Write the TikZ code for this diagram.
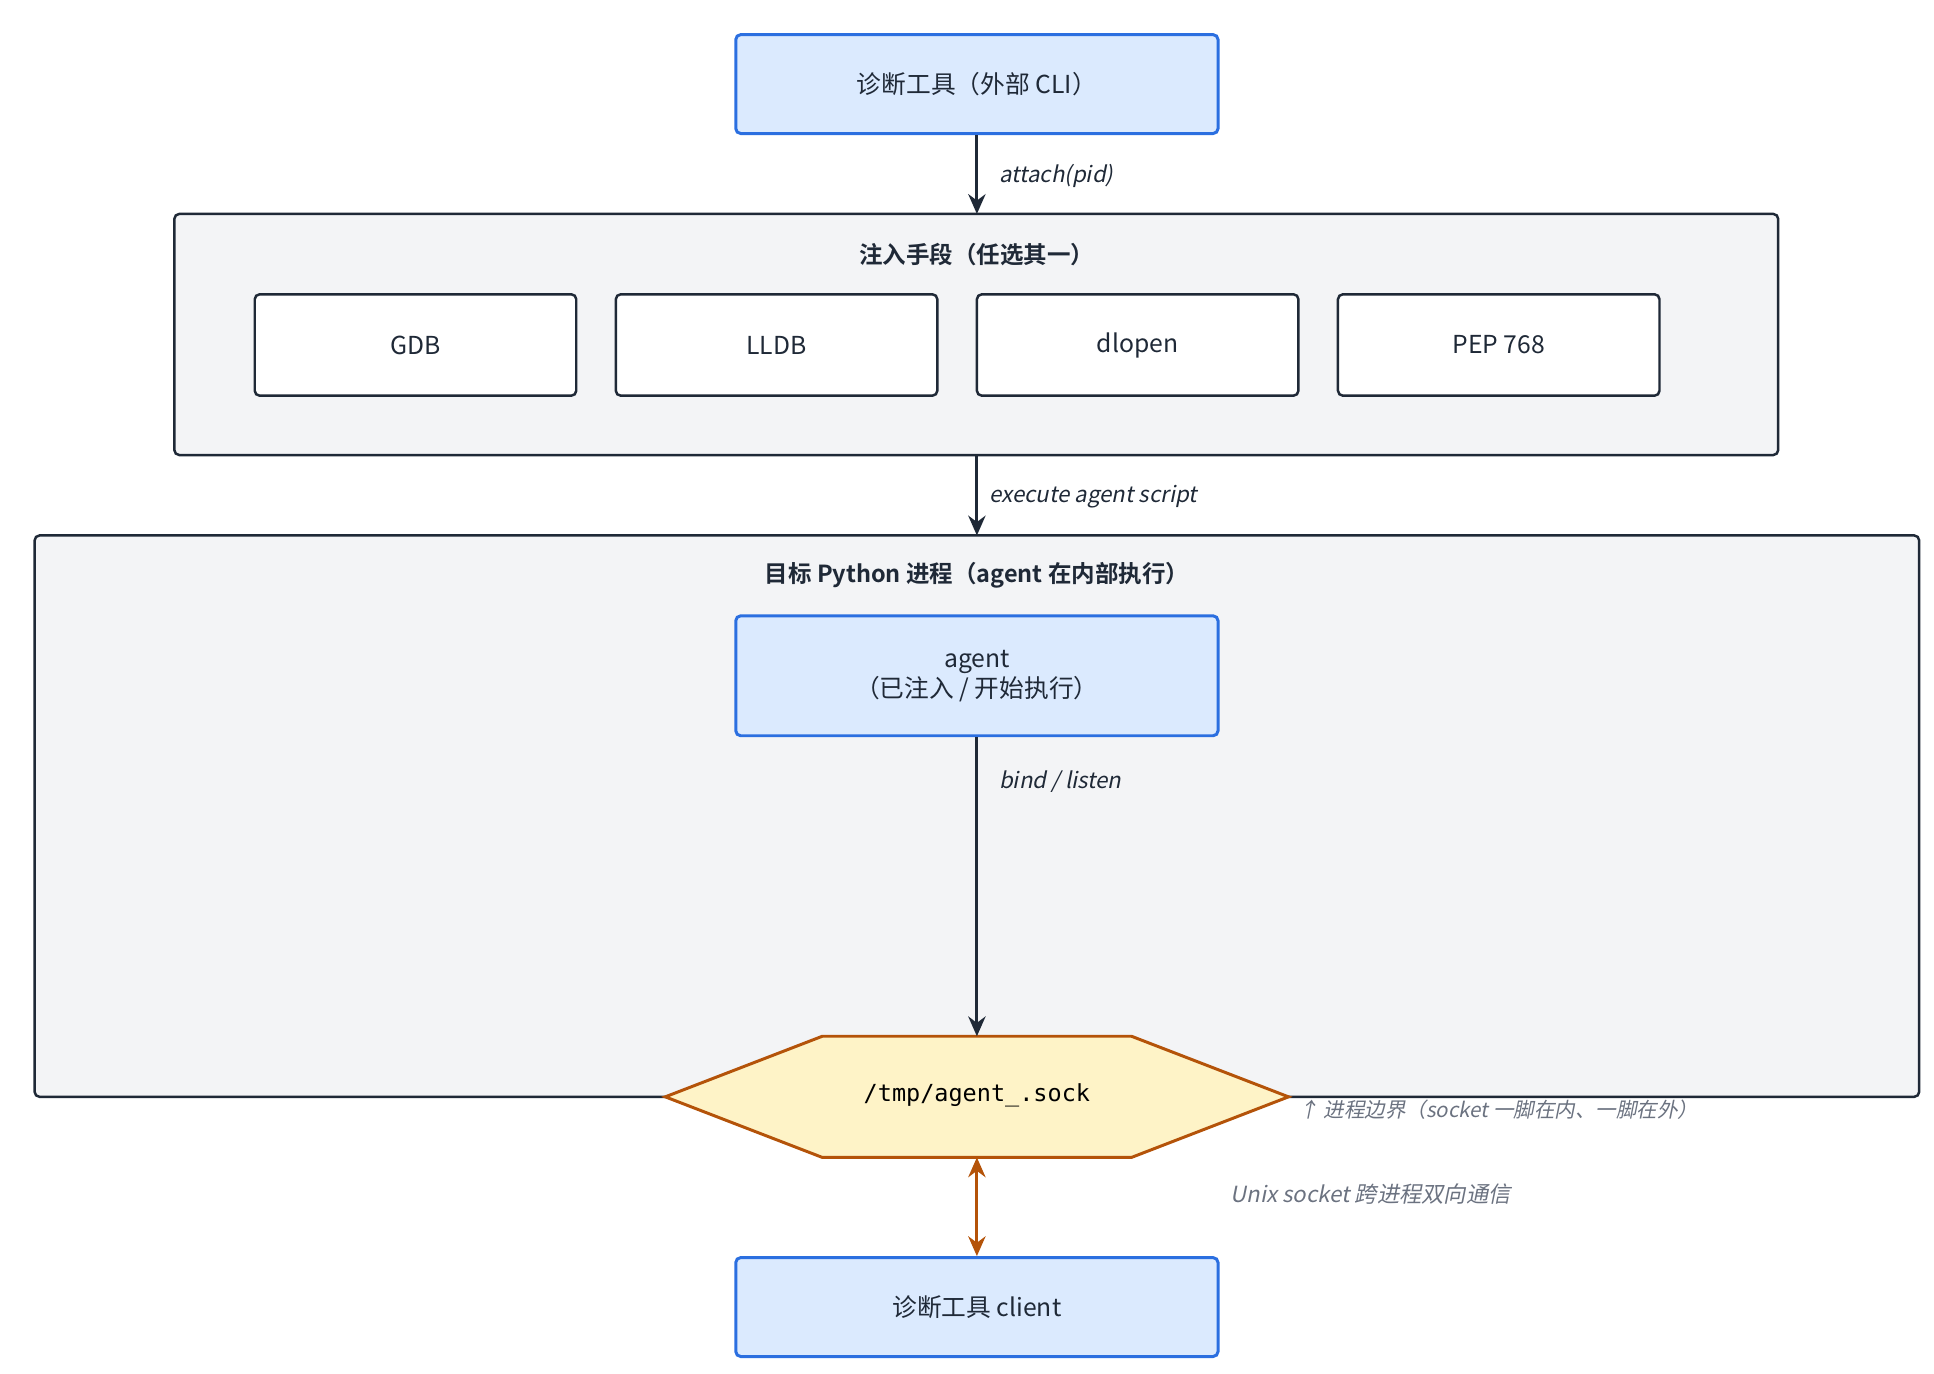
\documentclass[tikz,border=0pt]{standalone}
\usepackage{fontspec}
\setmainfont{Noto Sans CJK SC}[BoldFont={Noto Sans CJK SC Bold},ItalicFont={Noto Sans CJK SC},ItalicFeatures={FakeSlant=0.2}]
\setmonofont{DejaVu Sans Mono}
\usetikzlibrary{arrows.meta}
\definecolor{bluefill}{HTML}{DBEAFE}
\definecolor{blueline}{HTML}{2B6FE0}
\definecolor{grpfill}{HTML}{F3F4F6}
\definecolor{dark}{HTML}{1F2937}
\definecolor{hexfill}{HTML}{FEF3C7}
\definecolor{hexline}{HTML}{B45309}
\definecolor{note}{HTML}{6B7280}
\begin{document}
\begin{tikzpicture}[x=0.5pt,y=-0.5pt,
  bluebox/.style={draw=blueline,fill=bluefill,line width=1.2pt,rounded corners=2pt,align=center,font=\fontsize{10}{12}\selectfont,text=dark},
  whitebox/.style={draw=dark,fill=white,line width=1pt,rounded corners=2pt,font=\fontsize{10}{12}\selectfont,text=dark},
  grp/.style={draw=dark,fill=grpfill,line width=1pt,rounded corners=2pt},
  title/.style={font=\bfseries\fontsize{9.5}{11}\selectfont,text=dark},
  lbl/.style={font=\itshape\fontsize{9}{11}\selectfont,text=dark,anchor=west},
  arr/.style={-{Stealth[length=8pt,width=7pt]},draw=dark,line width=1.2pt},
  darr/.style={{Stealth[length=8pt,width=7pt]}-{Stealth[length=8pt,width=7pt]},draw=hexline,line width=1.2pt}]
\useasboundingbox (0,0) rectangle (1564,1111);
% groups
\draw[grp] (141,173) rectangle (1438,368);
\node[title] (g1) at (790,206) {注入手段（任选其一）};
\draw[grp] (28,433) rectangle (1552,887);
\node[title] (g2) at (790,465) {目标 Python 进程（agent 在内部执行）};
% boxes
\node[bluebox,minimum width=195pt,minimum height=40pt] (cli) at (790,68) {诊断工具（外部 CLI）};
\foreach \n/\t/\x in {gdb/GDB/336,lldb/LLDB/628,dl/dlopen/920,pep/PEP 768/1212}
  \node[whitebox,minimum width=130pt,minimum height=41pt] (\n) at (\x,279) {\t};
\node[bluebox,minimum width=195pt,minimum height=48.5pt] (agent) at (790,546.5) {agent\\（已注入 / 开始执行）};
\node[bluebox,minimum width=195pt,minimum height=40pt] (client) at (790,1057) {诊断工具 client};
% hexagon
\draw[draw=hexline,fill=hexfill,line width=1.2pt] (538,887) -- (665,838) -- (915,838) -- (1042,887) -- (915,936) -- (665,936) -- cycle;
\coordinate (hexT) at (790,838);
\coordinate (hexB) at (790,936);
\node[font=\ttfamily\fontsize{9.5}{12}\selectfont,text=black] (sock) at (790,886) {/tmp/agent\_.sock};
% arrows
\coordinate (g1T) at (790,173);
\coordinate (g1B) at (790,368);
\coordinate (g2T) at (790,433);
\draw[arr] (cli.south) -- (g1T);
\node[lbl] (l1) at (801,142) {attach(pid)};
\draw[arr] (g1B) -- (g2T);
\node[lbl] (l2) at (793,402) {execute agent script};
\draw[arr] (agent.south) -- (hexT);
\node[lbl] (l3) at (801,632) {bind / listen};
\draw[darr] (hexB) -- (client.north);
\node[lbl,text=note] (l4) at (988,966) {Unix socket 跨进程双向通信};
\node[lbl,text=note,font=\itshape\fontsize{8.3}{10}\selectfont] (l5) at (1043,897) {↑ 进程边界（socket 一脚在内、一脚在外）};
\end{tikzpicture}
\end{document}
